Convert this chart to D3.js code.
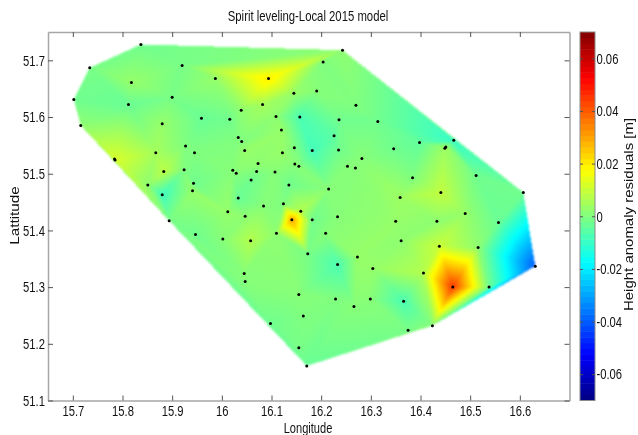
<!DOCTYPE html>
<html>
<head>
<meta charset="utf-8">
<script src="https://cdn.jsdelivr.net/npm/d3@7"></script>
<style>
  html, body { margin: 0; padding: 0; background: #fff; }
  #chart { position: relative; width: 638px; height: 435px; overflow: hidden; }
  canvas { position: absolute; left: 0; top: 0; filter: blur(0.8px); }
  svg { position: absolute; left: 0; top: 0; filter: blur(0.3px); }
  text { font-family: 'Liberation Sans', Arial, sans-serif; fill: #111; }
</style>
</head>
<body>
<div id="chart">
  <canvas id="surface" width="638" height="435"></canvas>
  <svg id="plot" width="638" height="435"></svg>
</div>
<script>
// benchmark positions
let lons = [
  15.837, 15.734, 15.702, 15.716, 15.818, 15.812, 15.920, 15.987, 16.094, 16.204,
  15.900, 16.082, 16.145, 16.191, 16.039, 15.959, 16.016, 16.109, 16.157, 16.236,
  15.880, 16.120, 16.033, 16.040, 16.226, 15.927, 15.867, 15.945, 16.046, 16.122,
  16.146, 16.182, 16.235, 15.784, 15.785, 15.883, 15.924, 16.073, 16.147, 16.155,
  16.022, 16.029, 16.070, 16.107, 16.059, 16.135, 15.851, 15.943, 15.941, 15.880,
  16.215, 16.033, 16.124, 16.084, 16.012, 16.159, 16.047, 16.141, 16.182, 16.233,
  15.894, 16.243, 16.270, 16.314, 16.282, 16.253, 16.269, 16.346, 16.398, 16.449,
  16.451, 16.467, 16.512, 16.607, 16.384, 16.441, 16.359, 16.490, 16.557, 16.433,
  16.350, 15.947, 16.002, 16.058, 16.110, 16.209, 16.173, 16.233, 16.045, 16.047,
  16.155, 16.229, 16.164, 16.098, 16.155, 16.171, 16.273, 16.304, 16.361, 16.438,
  16.516, 16.406, 16.465, 16.538, 16.631, 16.299, 16.266, 16.366, 16.375, 16.424
]
let lats = [
  51.728, 51.687, 51.631, 51.585, 51.661, 51.622, 51.691, 51.668, 51.668, 51.697,
  51.635, 51.622, 51.642, 51.646, 51.612, 51.598, 51.596, 51.601, 51.600, 51.595,
  51.588, 51.577, 51.564, 51.557, 51.567, 51.549, 51.537, 51.537, 51.541, 51.537,
  51.546, 51.541, 51.542, 51.526, 51.524, 51.504, 51.507, 51.518, 51.517, 51.513,
  51.506, 51.501, 51.504, 51.503, 51.489, 51.480, 51.480, 51.483, 51.470, 51.463,
  51.473, 51.457, 51.447, 51.443, 51.433, 51.434, 51.425, 51.419, 51.419, 51.424,
  51.417, 51.718, 51.621, 51.592, 51.527, 51.513, 51.510, 51.544, 51.555, 51.545,
  51.547, 51.559, 51.497, 51.467, 51.493, 51.467, 51.458, 51.430, 51.414, 51.416,
  51.416, 51.393, 51.385, 51.382, 51.395, 51.395, 51.359, 51.340, 51.324, 51.310,
  51.287, 51.279, 51.249, 51.236, 51.193, 51.161, 51.353, 51.333, 51.382, 51.372,
  51.370, 51.325, 51.300, 51.300, 51.337, 51.279, 51.266, 51.275, 51.224, 51.232
]
let residuals = [
  -0.002, -0.001, -0.002, 0.002, 0.003, -0.003, -0.001, 0.003, 0.02, 0,
  -0.001, 0.005, 0.003, 0.001, 0.002, -0.003, -0.002, 0.002, -0.007, -0.002,
  0.003, 0.003, 0, 0, -0.005, 0, 0.005, 0, 0.003, 0.003,
  0, -0.008, -0.002, 0.012, 0.012, 0.008, 0, 0.002, 0.001, 0.001,
  0.001, 0.001, 0, 0.001, -0.002, -0.002, 0.002, -0.002, 0.003, -0.009,
  0.001, -0.003, 0, 0.001, 0.003, 0.007, 0.002, 0.03, -0.002, 0.001,
  -0.001, 0.002, 0, -0.002, 0.001, 0.001, 0.001, -0.002, -0.004, 0.004,
  0.004, -0.01, -0.002, -0.002, 0, 0.009, 0.004, 0.003, -0.003, 0.002,
  0.003, -0.002, 0.001, 0.007, 0.002, 0.001, -0.001, -0.007, 0.001, 0.001,
  0.001, 0, 0, -0.002, -0.001, -0.003, 0.003, 0.003, 0.002, 0.01,
  0.002, 0.007, 0.045, -0.002, -0.04, 0.001, 0.001, -0.007, -0.001, 0.001
]
let lonTicks = [15.7, 15.8, 15.9, 16, 16.1, 16.2, 16.3, 16.4, 16.5, 16.6]
let latTicks = [51.1, 51.2, 51.3, 51.4, 51.5, 51.6, 51.7]
let barTicks = [-0.06, -0.04, -0.02, 0, 0.02, 0.04, 0.06]

let margin = { top: 32, right: 68.5, bottom: 34.5, left: 48 }
let width = 638
let height = 435
let barLeft = 580
let barRight = 595
let squeeze = 0.75 // the picture is narrower than it was drawn

let x = d3.scaleLinear()
  .domain([15.65, 16.7])
  .range([margin.left, width - margin.right])
let y = d3.scaleLinear()
  .domain([51.1, 51.75])
  .range([height - margin.bottom, margin.top])
let c = d3.scaleLinear()
  .domain([-0.07, 0.07])
  .range([height - margin.bottom, margin.top])

// matlab jet
let jet = d3.scaleLinear()
  .domain([-0.07, -0.0525, -0.0175, 0.0175, 0.0525, 0.07])
  .range(['#000080', '#0000ff', '#00ffff', '#ffff00', '#ff0000', '#800000'])
  .clamp(true)

drawSurface()
drawAxes()
drawPoints()
drawColorbar()
drawLabels()

function drawSurface() {
  let ctx = document.getElementById('surface').getContext('2d')
  let img = ctx.createImageData(width, height)
  let delaunay = d3.Delaunay.from(lons.map((d, i) => [d, lats[i]]))
  let t = delaunay.triangles

  for (let k = 0; k < t.length; k += 3) {
    let [a, b, e] = [t[k], t[k + 1], t[k + 2]]
    let ax = x(lons[a]), ay = y(lats[a])
    let bx = x(lons[b]), by = y(lats[b])
    let ex = x(lons[e]), ey = y(lats[e])
    let det = (by - ey) * (ax - ex) + (ex - bx) * (ay - ey)
    if (Math.abs(det) < 1e-6) continue
    let x0 = Math.floor(Math.min(ax, bx, ex)), x1 = Math.ceil(Math.max(ax, bx, ex))
    let y0 = Math.floor(Math.min(ay, by, ey)), y1 = Math.ceil(Math.max(ay, by, ey))
    for (let py = y0; py <= y1; py++) {
      for (let px = x0; px <= x1; px++) {
        let w1 = ((by - ey) * (px + 0.5 - ex) + (ex - bx) * (py + 0.5 - ey)) / det
        let w2 = ((ey - ay) * (px + 0.5 - ex) + (ax - ex) * (py + 0.5 - ey)) / det
        let w3 = 1 - w1 - w2
        if (w1 < -0.001 || w2 < -0.001 || w3 < -0.001) continue
        let col = d3.rgb(jet(w1 * residuals[a] + w2 * residuals[b] + w3 * residuals[e]))
        let idx = (py * width + px) * 4
        img.data[idx] = col.r
        img.data[idx + 1] = col.g
        img.data[idx + 2] = col.b
        img.data[idx + 3] = 255
      }
    }
  }
  ctx.putImageData(img, 0, 0)
}

function styleAxis(g) {
  g.select('.domain').attr('stroke', '#a6a6a6').attr('stroke-width', 1.5)
  g.selectAll('line').attr('stroke', '#555').attr('stroke-width', 1)
  g.selectAll('text')
    .style('font-size', '15px')
    .attr('transform', `scale(${squeeze},1)`)
}

function drawAxes() {
  let svg = d3.select('#plot')
  let fmt = d => String(d)
  let sides = [
    { axis: d3.axisBottom(x).tickValues(lonTicks).tickFormat(fmt).tickPadding(5), at: [0, height - margin.bottom] },
    { axis: d3.axisTop(x).tickValues(lonTicks).tickFormat(''), at: [0, margin.top] },
    { axis: d3.axisLeft(y).tickValues(latTicks).tickFormat(fmt).tickPadding(4), at: [margin.left, 0] },
    { axis: d3.axisRight(y).tickValues(latTicks).tickFormat(''), at: [width - margin.right, 0] }
  ]
  sides.forEach(s => {
    svg.append('g')
      .attr('transform', `translate(${s.at})`)
      .call(s.axis.tickSizeInner(-5).tickSizeOuter(0))
      .call(styleAxis)
  })
}

function drawPoints() {
  d3.select('#plot').append('g')
    .selectAll('circle')
    .data(lons)
    .join('circle')
    .attr('cx', d => x(d))
    .attr('cy', (d, i) => y(lats[i]))
    .attr('r', 1.5)
    .attr('fill', '#000')
}

function drawColorbar() {
  let svg = d3.select('#plot')
  let step = 0.14 / 64
  let levels = d3.range(64).map(i => -0.07 + (i + 0.5) * step)
  svg.append('g')
    .selectAll('rect')
    .data(levels)
    .join('rect')
    .attr('x', barLeft)
    .attr('y', d => c(d + step / 2))
    .attr('width', barRight - barLeft)
    .attr('height', d => c(d - step / 2) - c(d + step / 2) + 0.5)
    .attr('fill', d => jet(d))
  svg.append('rect')
    .attr('x', barLeft)
    .attr('y', margin.top)
    .attr('width', barRight - barLeft)
    .attr('height', height - margin.top - margin.bottom)
    .attr('fill', 'none')
    .attr('stroke', '#8a8a8a')
  svg.append('g')
    .attr('transform', `translate(${barRight},0)`)
    .call(d3.axisRight(c).tickValues(barTicks).tickFormat(d => String(d)).tickSizeInner(-3).tickSizeOuter(0).tickPadding(2))
    .call(styleAxis)
    .call(g => g.select('.domain').remove())
  svg.append('g')
    .attr('transform', `translate(${barLeft},0)`)
    .call(d3.axisLeft(c).tickValues(barTicks).tickFormat('').tickSizeInner(-3).tickSizeOuter(0))
    .call(styleAxis)
    .call(g => g.select('.domain').remove())
}

function drawLabels() {
  let svg = d3.select('#plot')
  let labels = [
    { text: 'Spirit leveling-Local 2015 model', x: 308, y: 21, rot: 0, size: 14, sx: 0.81 },
    { text: 'Longitude', x: 308, y: 433, rot: 0, size: 14, sx: 0.79 },
    { text: 'Lattitude', x: 19, y: 215.5, rot: -90, size: 15.3, sx: 0.79 },
    { text: 'Height anomaly residuals [m]', x: 633, y: 214.5, rot: -90, size: 15, sx: 0.79 }
  ]
  svg.append('g')
    .selectAll('text')
    .data(labels)
    .join('text')
    .attr('text-anchor', 'middle')
    .attr('transform', d => `translate(${d.x},${d.y}) scale(${d.sx},1) rotate(${d.rot})`)
    .style('font-size', d => d.size + 'px')
    .text(d => d.text)
}
</script>
</body>
</html>
